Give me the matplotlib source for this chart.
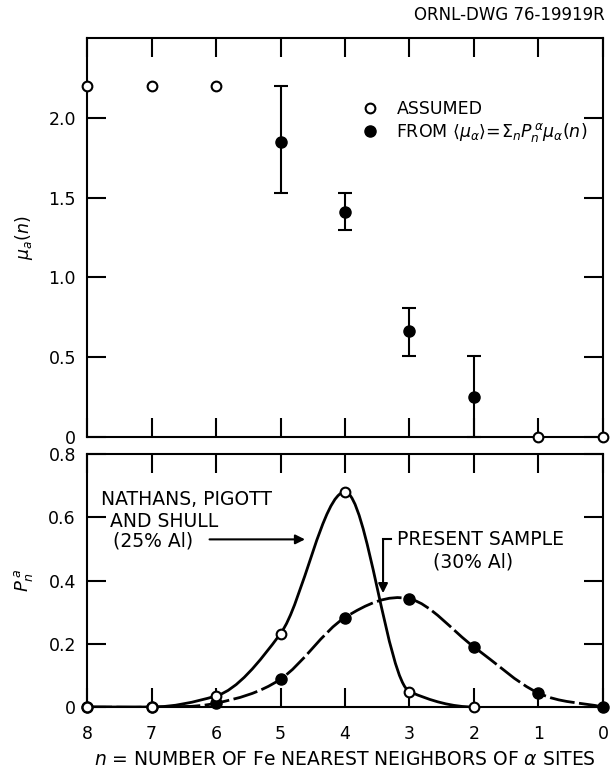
import numpy as np
import matplotlib
matplotlib.use('Agg')
import matplotlib.pyplot as plt
from matplotlib.path import Path
from matplotlib.patches import PathPatch

plt.rcParams['font.family'] = 'DejaVu Sans'
plt.rcParams['mathtext.fontset'] = 'dejavusans'

# upper panel: moment per site
n_assumed = [8, 7, 6, 1, 0]
mu_assumed = [2.2, 2.2, 2.2, 0.0, 0.0]
n_fit = [5, 4, 3, 2]
mu_fit = [1.85, 1.41, 0.665, 0.25]
mu_lo = [1.53, 1.30, 0.51, 0.0]
mu_hi = [2.2, 1.53, 0.81, 0.51]

# lower panel: probabilities
n_nps = [8, 7, 6, 5, 4, 3, 2]
p_nps = [0.0, 0.0, 0.035, 0.232, 0.68, 0.049, 0.0]
n_present = [8, 7, 6, 5, 4, 3, 2, 1, 0]
p_present = [0.0, 0.0, 0.012, 0.088, 0.283, 0.342, 0.19, 0.044, 0.0]

xticks = [8, 7, 6, 5, 4, 3, 2, 1, 0]


def smooth_path(x, y, monotone=False):
    # cubic bezier segments through the points (catmull-rom or pchip slopes)
    x = np.asarray(x, float)
    y = np.asarray(y, float)
    m = len(x)
    sec = np.diff(y) / np.diff(x)
    t = np.zeros(m)
    for i in range(m):
        if monotone:
            if i == 0:
                t[i] = 0.0 if sec[0] == 0 else sec[0] / 2
            elif i == m - 1:
                t[i] = 0.0
            elif sec[i - 1] * sec[i] <= 0:
                t[i] = 0.0
            else:
                t[i] = 2 / (1 / sec[i - 1] + 1 / sec[i])
        else:
            a = max(i - 1, 0)
            b = min(i + 1, m - 1)
            t[i] = (y[b] - y[a]) / (x[b] - x[a])
    verts = [(x[0], y[0])]
    codes = [Path.MOVETO]
    for i in range(m - 1):
        d = x[i + 1] - x[i]
        verts += [(x[i] + d / 3, y[i] + t[i] * d / 3),
                  (x[i + 1] - d / 3, y[i + 1] - t[i + 1] * d / 3),
                  (x[i + 1], y[i + 1])]
        codes += [Path.CURVE4] * 3
    return Path(verts, codes)


fig = plt.figure(figsize=(6.11, 7.7), dpi=100)
ax1 = fig.add_axes([0.1424, 0.4325, 0.8445, 0.5181])
ax2 = fig.add_axes([0.1424, 0.0818, 0.8445, 0.3286])

for ax in (ax1, ax2):
    ax.set_xlim(8, 0)
    ax.set_xticks(xticks)
    for s in ax.spines.values():
        s.set_linewidth(1.5)
    ax.tick_params(direction='in', length=14, width=1.5, top=True, right=True,
                   labelsize=12.5)
    ax.tick_params(axis='y', pad=8)
    ax.tick_params(axis='x', pad=13)

# ---- upper panel
ax1.set_ylim(0, 2.5)
ax1.set_yticks([0, 0.5, 1.0, 1.5, 2.0])
ax1.set_yticklabels(['0', '0.5', '1.0', '1.5', '2.0'])
ax1.tick_params(labelbottom=False)

ax1.errorbar(n_fit, mu_fit,
             yerr=[np.subtract(mu_fit, mu_lo), np.subtract(mu_hi, mu_fit)],
             fmt='none', ecolor='black', elinewidth=1.5, capsize=5, capthick=1.5,
             clip_on=False)
ax1.plot(n_assumed, mu_assumed, 'o', mfc='white', mec='black', mew=1.5, ms=7,
         clip_on=False, zorder=5, label='ASSUMED')
ax1.plot(n_fit, mu_fit, 'o', color='black', ms=8, clip_on=False, zorder=5,
         label=r'FROM $\langle\mu_\alpha\rangle\!=\!\Sigma_n P_n^{\,\alpha}\mu_\alpha(n)$')
ax1.legend(loc='upper left', bbox_to_anchor=(0.534, 0.845), frameon=False,
           fontsize=12.5, handlelength=0.85, handletextpad=1.1, labelspacing=0.2,
           borderaxespad=0, borderpad=0)
ax1.set_ylabel(r'$\mu_a(n)$', fontsize=12.5)
ax1.yaxis.set_label_coords(-0.10, 0.5)

# ---- lower panel
ax2.set_ylim(0, 0.8)
ax2.set_yticks([0, 0.2, 0.4, 0.6, 0.8])
ax2.set_yticklabels(['0', '0.2', '0.4', '0.6', '0.8'])
ax2.set_xticklabels([str(v) for v in xticks])

ax2.add_patch(PathPatch(smooth_path(n_nps, p_nps, monotone=True), fill=False,
                        lw=2, edgecolor='black', zorder=3))
ax2.add_patch(PathPatch(smooth_path(n_present, p_present), fill=False, lw=2,
                        edgecolor='black', linestyle=(0, (9, 1.6)), zorder=3))
ax2.plot(n_present, p_present, 'o', color='black', ms=8, clip_on=False, zorder=4)
ax2.plot(n_nps, p_nps, 'o', mfc='white', mec='black', mew=1.5, ms=7,
         clip_on=False, zorder=5)

ax2.text(7.79, 0.657, 'NATHANS, PIGOTT', fontsize=13.5, ha='left', va='center')
ax2.text(7.65, 0.588, 'AND SHULL', fontsize=13.5, ha='left', va='center')
ax2.text(7.60, 0.525, '(25% Al)', fontsize=13.5, ha='left', va='center')
ax2.annotate('', xy=(4.62, 0.53), xytext=(6.1, 0.53),
             arrowprops=dict(arrowstyle='-|>', lw=1.5, color='black',
                             mutation_scale=14, shrinkA=0, shrinkB=0))
ax2.text(3.19, 0.53, 'PRESENT SAMPLE', fontsize=13.5, ha='left', va='center')
ax2.text(2.64, 0.46, '(30% Al)', fontsize=13.5, ha='left', va='center')
ax2.plot([3.41, 3.28], [0.53, 0.53], color='black', lw=1.5)
ax2.annotate('', xy=(3.41, 0.36), xytext=(3.41, 0.53),
             arrowprops=dict(arrowstyle='-|>', lw=1.5, color='black',
                             mutation_scale=14, shrinkA=0, shrinkB=0))

ax2.set_ylabel(r'$P_n^{\,a}$', fontsize=13)
ax2.yaxis.set_label_coords(-0.10, 0.5)
ax2.set_xlabel(r'$n$ = NUMBER OF Fe NEAREST NEIGHBORS OF $\alpha$ SITES',
               fontsize=13.5, labelpad=5)

fig.text(0.99, 0.98, 'ORNL-DWG 76-19919R', fontsize=12, ha='right', va='center')

fig.savefig('out.png', dpi=100)
